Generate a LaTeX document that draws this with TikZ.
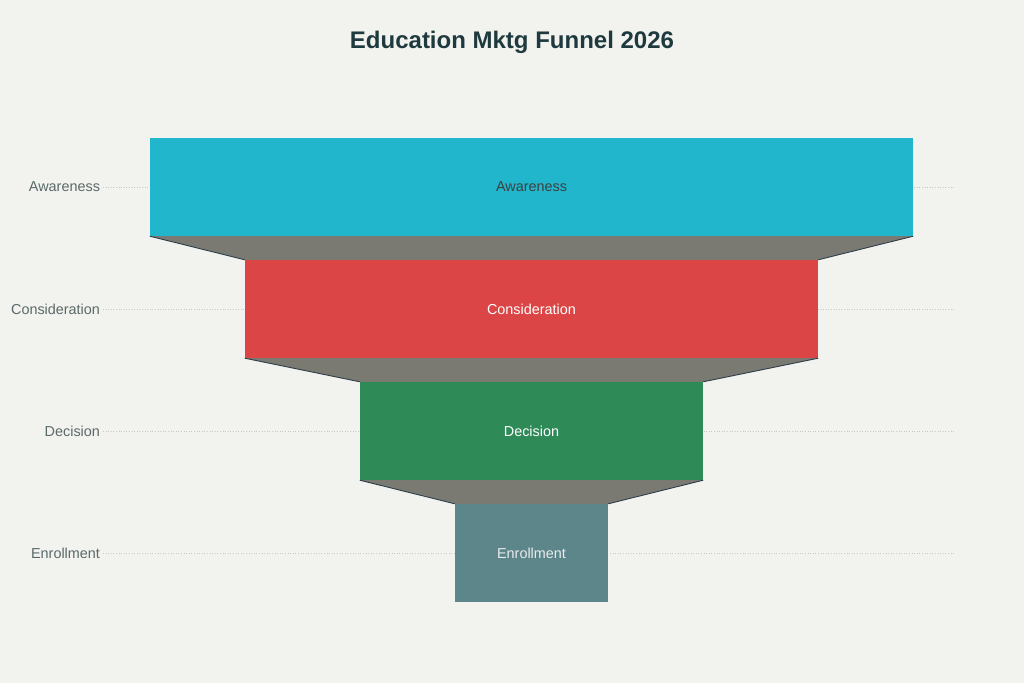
\documentclass[tikz,border=0pt]{standalone}
\usepackage{fontspec}
\setmainfont{Liberation Sans}
\usetikzlibrary{positioning,calc}
\definecolor{bgcol}{HTML}{F2F2EE}
\definecolor{awarecol}{HTML}{21B6CB}
\definecolor{considcol}{HTML}{DB4545}
\definecolor{decicol}{HTML}{2E8B57}
\definecolor{enrolcol}{HTML}{5D868B}
\definecolor{linkcol}{HTML}{7A7A72}
\definecolor{edgecol}{HTML}{2F3F4A}
\definecolor{titlecol}{HTML}{1F3A3F}
\definecolor{labcol}{HTML}{5A6A6A}
\begin{document}
\begin{tikzpicture}
    [
    x=1pt, y=-1pt,
    bar/.style={rectangle, minimum height=98pt, inner sep=0pt, font=\fontsize{14.4}{17}\selectfont},
    axlab/.style={anchor=east, text=labcol, font=\fontsize{14.4}{17}\selectfont},
    grid/.style={draw=black!22, dotted, line width=0.6pt},
    link/.style={fill=linkcol},
    edge/.style={draw=edgecol, line width=0.9pt}
    ]

    % Fond
    \fill [bgcol] (0,0) rectangle (1024,683);
    \useasboundingbox (0,0) rectangle (1024,683);
    % Titre
    \node [text=titlecol, font=\bfseries\fontsize{24}{28}\selectfont] (title) at (512,42) {Education Mktg Funnel 2026};
    % Lignes de grille et etiquettes
    \foreach \lab/\yy in {Awareness/187, Consideration/309, Decision/431, Enrollment/553} {
        \draw [grid] (103,\yy) -- (955,\yy);
        \node [axlab] at (103.5,\yy) {\lab};
    }
    % Etapes
    \node [bar, fill=awarecol, minimum width=763pt, text=black!75] (aware) at (531.5,187) {Awareness};
    \node [bar, fill=considcol, minimum width=573pt, text=white] (consid) at (531.5,309) {Consideration};
    \node [bar, fill=decicol, minimum width=343pt, text=white] (deci) at (531.5,431) {Decision};
    \node [bar, fill=enrolcol, minimum width=153pt, text=white!92!black] (enrol) at (531.5,553) {Enrollment};
    % Liaisons
    \fill [link] (aware.south west) -- (aware.south east) -- (consid.north east) -- (consid.north west) -- cycle;
    \fill [link] (consid.south west) -- (consid.south east) -- (deci.north east) -- (deci.north west) -- cycle;
    \fill [link] (deci.south west) -- (deci.south east) -- (enrol.north east) -- (enrol.north west) -- cycle;
    \draw [edge] (aware.south west) -- (consid.north west);
    \draw [edge] (aware.south east) -- (consid.north east);
    \draw [edge] (consid.south west) -- (deci.north west);
    \draw [edge] (consid.south east) -- (deci.north east);
    \draw [edge] (deci.south west) -- (enrol.north west);
    \draw [edge] (deci.south east) -- (enrol.north east);
\end{tikzpicture}
\end{document}
